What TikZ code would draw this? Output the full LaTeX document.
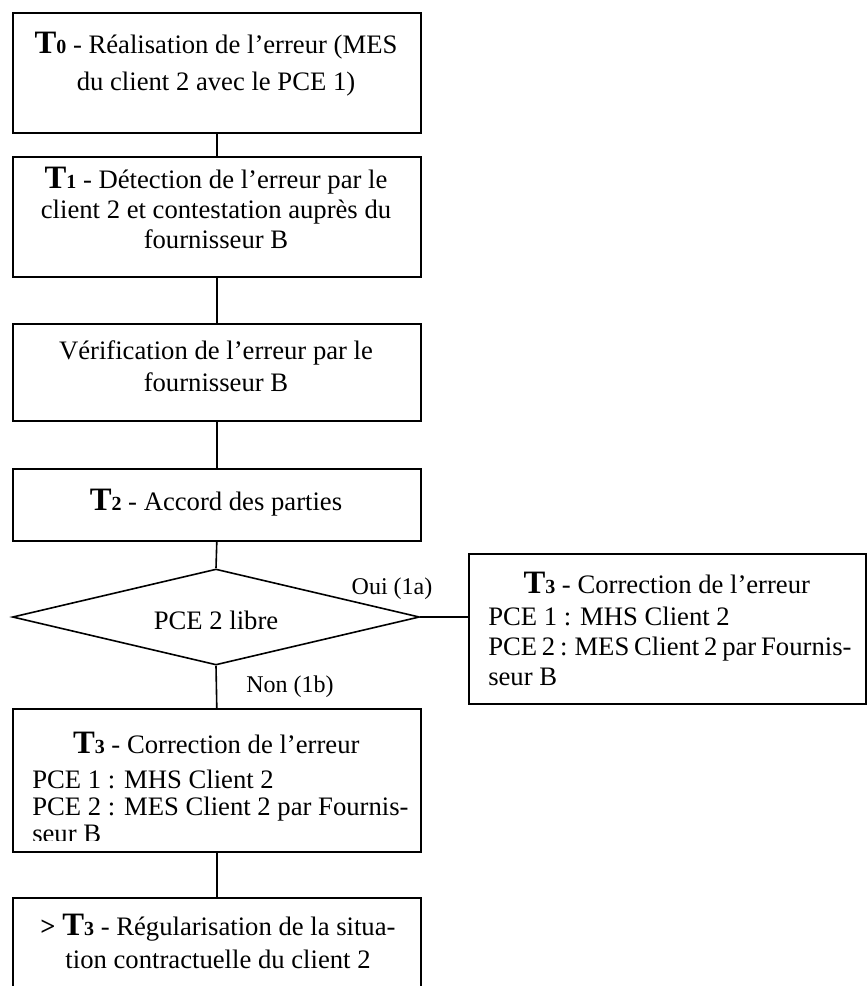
\documentclass[tikz,border=0pt]{standalone}
\usepackage{fontspec}
\setmainfont{Liberation Serif}
\usetikzlibrary{shapes.geometric}
\newcommand{\bigT}[1]{{\fontsize{24.5}{24}\selectfont\bfseries T}{\fontsize{15}{15}\selectfont\bfseries #1}}
\begin{document}
\begin{tikzpicture}[x=0.75pt,y=-0.75pt,
  box/.style={draw, line width=1.2pt, rectangle, inner sep=0pt, anchor=north west},
  txt/.style={inner sep=0pt, anchor=north, align=center, font=\fontsize{20}{23}\selectfont},
  txtl/.style={inner sep=0pt, anchor=north west, align=left, font=\fontsize{20}{22.5}\selectfont},
  lbl/.style={inner sep=0pt, font=\fontsize{18}{20}\selectfont},
  link/.style={line width=1.2pt}]
\useasboundingbox (0,0) rectangle (867,986);
\clip (0,0) rectangle (867,986);
% boxes
\node[box, minimum width=306pt, minimum height=90pt] (b0) at (12,12) {};
\node[box, minimum width=306pt, minimum height=90pt] (b1) at (12,156) {};
\node[box, minimum width=306pt, minimum height=72.75pt] (b2) at (12,323) {};
\node[box, minimum width=306pt, minimum height=54pt] (b3) at (12,468) {};
\node[draw, diamond, line width=1.2pt, minimum width=305.25pt, minimum height=72pt, inner sep=0pt] (d) at (216,617) {};
\node[box, minimum width=297.75pt, minimum height=112.5pt] (r) at (468,553) {};
\node[box, minimum width=306pt, minimum height=107.25pt] (l) at (12,708) {};
\node[box, minimum width=306pt, minimum height=71.25pt] (b4) at (12,897) {};
% texts
\node[txt] (t0) at (216,31.7) {\bigT{0} - Réalisation de l’erreur (MES\\[4.5pt] du client 2 avec le PCE 1)};
\node[txt, font=\fontsize{20}{22.5}\selectfont] (t1) at (216,166.7) {\bigT{1} - Détection de l’erreur par le\\ client 2 et contestation auprès du\\ fournisseur B};
\node[txt, font=\fontsize{20}{23.5}\selectfont] (t2) at (216,340.8) {Vérification de l’erreur par le\\ fournisseur B};
\node[txt] (t3) at (216,488.4) {\bigT{2} - Accord des parties};
\node[txt, anchor=center] (dt) at (216,620) {PCE 2 libre};
\node[txtl] (rt) at (488,571.4) {\makebox[267.75pt]{\bigT{3} - Correction de l’erreur}\\[1.5pt] PCE 1 : MHS Client 2\\ {\spaceskip=0.18em plus 0.05em minus 0.05em PCE 2 : MES Client 2 par Fournis-}\\ seur B};
\begin{scope}
\clip (12,708) rectangle (420,840);
\node[txtl, font=\fontsize{20}{20.25}\selectfont] (lt) at (32,731.4) {\makebox[276pt]{\bigT{3} - Correction de l’erreur}\\[6pt] PCE 1 : MHS Client 2\\ PCE 2 : MES Client 2 par Fournis-\\ seur B};
\end{scope}
\node[txt, font=\fontsize{20}{24.75}\selectfont] (t4) at (218,913.4) {\textbf{>} \bigT{3} - Régularisation de la situa-\\ tion contractuelle du client 2};
\node[lbl] (oui) at (392,589) {Oui (1a)};
\node[lbl] (non) at (290,687) {Non (1b)};
% connectors
\draw[link] (b0.south) -- (b1.north);
\draw[link] (b1.south) -- (b2.north);
\draw[link] (b2.south) -- (b3.north);
\draw[link] (b3.south) -- (d.north);
\draw[link] (d.east) -- (d.east -| r.west);
\draw[link] (d.south) -- (l.north);
\draw[link] (l.south) -- (b4.north);
\end{tikzpicture}
\end{document}
